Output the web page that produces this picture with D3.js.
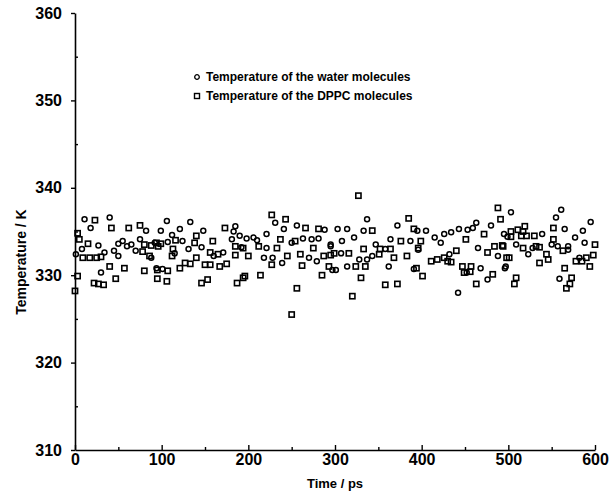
<!DOCTYPE html>
<html>
<head>
<meta charset="utf-8">
<script src="https://cdn.jsdelivr.net/npm/d3@7"></script>
<style>
  html, body { margin: 0; padding: 0; background: #fff; }
  svg text { font-family: "Liberation Sans", Arial, Helvetica, sans-serif; font-weight: bold; fill: #000; }
</style>
</head>
<body>
<div id="chart"></div>
<script>
// time (ps) and temperature (K)
const waterTime = [
  1, 8, 11, 18, 27, 30, 34, 40, 45, 50, 50, 55, 60, 65, 70, 75, 82, 88, 94,
  92, 99, 101, 106, 107, 112, 115, 121, 124, 131, 133, 146, 148, 160, 171, 181, 183, 185, 190,
  192, 198, 206, 210, 218, 221, 221, 228, 231, 239, 241, 250, 256, 263, 270, 273, 279, 281, 288, 295, 297,
  295, 301, 303, 307, 308, 314, 314, 322, 328, 333, 337, 337, 343, 347, 358, 362, 364, 372, 387, 391,
  395, 396, 405, 415, 422, 426, 432, 434, 442, 443, 452, 453, 459, 463, 465, 468, 476, 480, 488, 495, 497,
  496, 499, 503, 509, 523, 528, 539, 550, 555, 557, 559, 561, 565, 569, 569, 577, 582, 586, 588, 595
];
const waterTemp = [
  332.4, 333.0, 336.4, 335.4, 333.4, 330.3, 332.6, 336.6, 332.8, 333.6, 332.2, 333.9, 333.3, 333.5, 332.8, 334.1, 335.1, 332.0, 330.8,
  333.7, 335.1, 330.7, 336.2, 333.8, 334.6, 332.5, 335.3, 333.9, 333.0, 336.1, 333.2, 335.1, 332.2, 332.6, 334.1, 335.0, 335.6, 334.5,
  333.2, 334.2, 334.3, 334.0, 332.0, 334.7, 333.1, 332.0, 336.0, 331.4, 335.3, 333.7, 335.7, 334.2, 332.0, 334.1, 331.6, 334.2, 335.2, 333.3, 330.6,
  333.5, 330.6, 335.3, 332.5, 333.9, 335.3, 331.0, 334.3, 331.8, 335.1, 331.8, 336.4, 332.2, 333.5, 333.0, 331.0, 334.1, 335.7, 333.9, 330.7,
  335.1, 332.9, 335.1, 334.3, 333.7, 334.7, 332.4, 334.9, 328.0, 335.3, 330.3, 335.2, 335.4, 336.0, 333.1, 330.8, 329.5, 335.7, 332.2, 334.7, 331.0,
  330.8, 334.4, 337.2, 333.5, 332.4, 333.1, 334.7, 333.5, 336.6, 333.3, 329.6, 337.5, 335.3, 333.3, 332.9, 334.3, 332.0, 335.1, 333.7, 336.1
];
const dppcTime = [
  0, 3, 3, 5, 9, 15, 17, 22, 23, 25, 27, 30, 33, 40, 42, 47, 57, 62, 75, 78, 80, 80, 86, 88, 94, 95, 96,
  95, 99, 106, 107, 112, 113, 116, 121, 127, 133, 138, 140, 140, 146, 150, 153, 156, 156, 159, 165, 167, 173, 175, 185, 185, 187, 194, 194,
  196, 200, 212, 214, 227, 227, 233, 237, 243, 245, 250, 254, 256, 260, 262, 266, 275, 281, 285, 287, 293,
  295, 299, 316, 320, 324, 327, 330, 333, 335, 343, 351, 352, 358, 364, 368, 372, 376, 383, 385, 391, 396,
  394, 399, 401, 411, 418, 426, 430, 434, 440, 447, 449, 451, 456, 457, 463, 472, 476, 482, 484, 488, 491, 493, 501,
  494, 498, 503, 503, 507, 509, 511, 515, 517, 517, 519, 521, 530, 532, 536, 536, 544, 546, 552, 552, 563, 565, 567, 571, 573, 578, 585, 590, 594, 598, 600
];
const dppcTemp = [
  328.2, 334.8, 329.9, 334.1, 332.0, 333.6, 332.0, 329.1, 336.3, 332.0, 329.0, 332.1, 328.9, 331.0, 335.4, 329.6, 330.8, 335.4, 335.7, 332.7, 333.5, 330.5, 332.2, 333.4, 333.7, 329.6, 333.3,
  330.6, 333.6, 329.3, 330.5, 332.2, 333.0, 334.0, 330.8, 331.4, 331.3, 333.7, 334.5, 332.0, 329.1, 331.2, 329.5, 332.6, 331.2, 333.9, 332.4, 331.0, 335.4, 331.3, 333.3, 332.3, 329.1, 333.1, 329.7,
  329.9, 332.2, 333.3, 330.0, 336.9, 331.2, 333.1, 334.1, 336.4, 332.2, 325.5, 333.9, 328.5, 332.4, 331.1, 335.4, 333.1, 335.3, 330.0, 332.2, 331.0,
  332.3, 332.5, 332.5, 327.6, 331.0, 339.1, 329.7, 333.0, 331.0, 335.1, 332.4, 333.0, 328.9, 333.0, 332.0, 329.0, 333.9, 332.2, 336.5, 335.3, 333.1,
  330.8, 333.9, 329.9, 331.6, 331.8, 332.0, 331.6, 331.5, 332.8, 331.0, 330.3, 334.1, 330.4, 331.0, 329.0, 334.7, 332.6, 330.1, 333.3, 337.7, 336.4, 333.4, 332.0,
  333.3, 332.0, 335.0, 334.4, 329.0, 329.7, 335.2, 334.5, 335.0, 333.1, 335.6, 334.5, 334.5, 333.3, 333.2, 331.4, 332.4, 331.8, 335.4, 334.1, 332.8, 330.8, 328.5, 329.0, 329.7, 331.6, 331.6, 332.0, 331.0, 332.3, 333.5
];

const xTicks = [0, 100, 200, 300, 400, 500, 600];
const xMinor = [50, 150, 250, 350, 450, 550];
const yTicks = [310, 320, 330, 340, 350, 360];
const yMinor = [315, 325, 335, 345, 355];
const legendLabels = ["Temperature of the water molecules", "Temperature of the DPPC molecules"];

const width = 609, height = 497;
const margin = { top: 13, right: 14, bottom: 47, left: 75 };

const svg = d3.select("#chart")
  .append("svg")
  .attr("width", width)
  .attr("height", height);

const x = d3.scaleLinear().domain([0, 600]).range([margin.left, width - margin.right]);
const y = d3.scaleLinear().domain([310, 360]).range([height - margin.bottom, margin.top]);

// x axis
svg.append("g")
  .attr("transform", `translate(0,${y(310)})`)
  .call(d3.axisBottom(x).tickValues(xTicks).tickSizeInner(-5).tickSizeOuter(0).tickPadding(4));
svg.append("g")
  .attr("transform", `translate(0,${y(310)})`)
  .call(d3.axisBottom(x).tickValues(xMinor).tickSizeInner(-3).tickSizeOuter(0).tickFormat(""))
  .select(".domain").remove();

// y axis
svg.append("g")
  .attr("transform", `translate(${x(0)},0)`)
  .call(d3.axisLeft(y).tickValues(yTicks).tickSizeInner(4).tickSizeOuter(0).tickPadding(9));
svg.append("g")
  .attr("transform", `translate(${x(0)},0)`)
  .call(d3.axisLeft(y).tickValues(yMinor).tickSizeInner(-3).tickSizeOuter(0).tickFormat(""))
  .select(".domain").remove();

svg.selectAll(".domain").attr("stroke", "#000").attr("stroke-width", 1.6);
svg.selectAll(".tick line").attr("stroke", "#000").attr("stroke-width", 1.4);
svg.selectAll(".tick text")
  .style("font-family", "'Liberation Sans', Arial, sans-serif")
  .style("font-weight", "bold")
  .style("font-size", "16px")
  .attr("fill", "#000");

// axis titles
svg.append("text")
  .attr("x", x(300))
  .attr("y", 488)
  .attr("text-anchor", "middle")
  .style("font-size", "13px")
  .text("Time / ps");

svg.append("text")
  .attr("transform", `translate(26,${y(331.5)}) rotate(-90)`)
  .attr("text-anchor", "middle")
  .style("font-size", "14px")
  .text("Temperature / K");

// points
const g = svg.append("g");
g.selectAll(".water")
  .data(waterTime.map((t, i) => ({ t, v: waterTemp[i] })))
  .enter()
  .append("circle")
  .attr("class", "water")
  .attr("cx", d => x(d.t))
  .attr("cy", d => y(d.v))
  .attr("r", 2.5)
  .attr("fill", "none")
  .attr("stroke", "#000")
  .attr("stroke-width", 1.5);

g.selectAll(".dppc")
  .data(dppcTime.map((t, i) => ({ t, v: dppcTemp[i] })))
  .enter()
  .append("rect")
  .attr("class", "dppc")
  .attr("x", d => x(d.t) - 2.6)
  .attr("y", d => y(d.v) - 2.6)
  .attr("width", 5.2)
  .attr("height", 5.2)
  .attr("fill", "none")
  .attr("stroke", "#000")
  .attr("stroke-width", 1.6);

// legend
const legend = svg.append("g").attr("transform", "translate(197,77)");
legendLabels.forEach((label, i) => {
  const row = legend.append("g").attr("transform", `translate(0,${i * 19})`);
  if (i === 0) {
    row.append("circle").attr("r", 2.3).attr("fill", "none").attr("stroke", "#000").attr("stroke-width", 1.3);
  } else {
    row.append("rect").attr("x", -2.5).attr("y", -2.5).attr("width", 5).attr("height", 5)
      .attr("fill", "none").attr("stroke", "#000").attr("stroke-width", 1.4);
  }
  row.append("text")
    .attr("x", 9)
    .attr("dy", "0.35em")
    .style("font-size", "12px")
    .text(label);
});
</script>
</body>
</html>
